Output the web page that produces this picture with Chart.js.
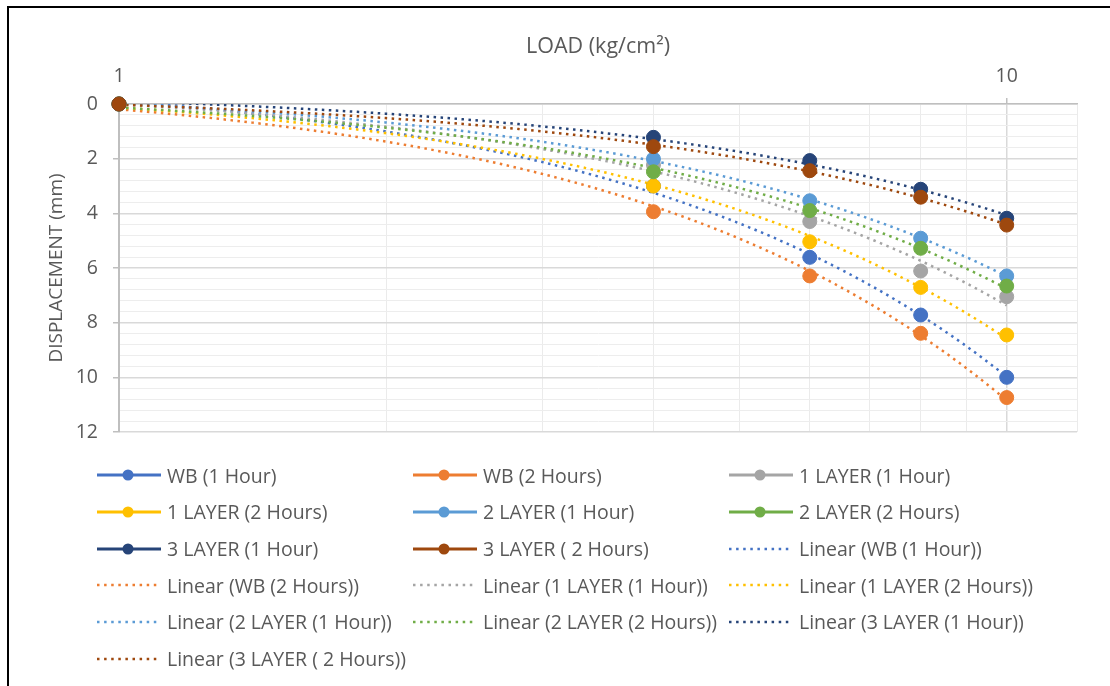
<!DOCTYPE html>
<html>
<head>
<meta charset="utf-8">
<title>Load vs displacement</title>
<script src="https://cdn.jsdelivr.net/npm/chart.js@4.4.0/dist/chart.umd.min.js"></script>
<style>
  html, body { margin: 0; padding: 0; background: #fff; }
  #wrap { position: relative; width: 1110px; height: 686px; overflow: hidden; font-family: "Open Sans", sans-serif; }
  #frame { position: absolute; left: 7px; top: 6px; width: 1200px; height: 800px; border: 2px solid #000; box-sizing: border-box; }
  #chart { position: absolute; left: 0; top: 0; }
  #legend { position: absolute; left: 97px; top: 457px; display: grid; grid-template-columns: 316px 316px 316px; grid-auto-rows: 36.65px; align-items: center; color: #595959; font-size: 19.5px; }
  .item { display: flex; align-items: center; white-space: nowrap; }
  .item svg { margin-right: 6px; flex: none; }
</style>
</head>
<body>
<div id="wrap">
  <div id="frame"></div>
  <canvas id="chart" width="1110" height="686"></canvas>
  <div id="legend"></div>
</div>
<script>
// load (kg/cm2) on the log x axis
const loads = [1, 4, 6, 8, 10];

// displacement (mm) per series
const wb1h      = [0, 3.00, 5.61, 7.72, 10.00];
const wb2h      = [0, 3.94, 6.29, 8.39, 10.74];
const layer1_1h = [0, 2.23, 4.30, 6.11, 7.05];
const layer1_2h = [0, 3.00, 5.04, 6.71, 8.45];
const layer2_1h = [0, 2.01, 3.54, 4.91, 6.29];
const layer2_2h = [0, 2.48, 3.90, 5.28, 6.66];
const layer3_1h = [0, 1.22, 2.07, 3.12, 4.18];
const layer3_2h = [0, 1.56, 2.44, 3.41, 4.43];

const seriesNames = ['WB (1 Hour)', 'WB (2 Hours)', '1 LAYER (1 Hour)', '1 LAYER (2 Hours)',
  '2 LAYER (1 Hour)', '2 LAYER (2 Hours)', '3 LAYER (1 Hour)', '3 LAYER ( 2 Hours)'];
const seriesValues = [wb1h, wb2h, layer1_1h, layer1_2h, layer2_1h, layer2_2h, layer3_1h, layer3_2h];
const seriesColors = ['#4472C4', '#ED7D31', '#A5A5A5', '#FFC000', '#5B9BD5', '#70AD47', '#264478', '#9E480E'];

// axis ticks
const xTicks = [1, 2, 3, 4, 5, 6, 7, 8, 9, 10, 12];
const xLabels = [1, 10];
const yMin = 0, yMax = 12, yMajor = 2, yMinor = 0.4;

const TEXT = '#595959';
Chart.defaults.font.family = '"Open Sans", sans-serif';
Chart.defaults.color = TEXT;

// least squares line, like an Excel "Linear" trendline
function linearFit(xs, ys) {
  const n = xs.length;
  const mx = xs.reduce((a, b) => a + b, 0) / n;
  const my = ys.reduce((a, b) => a + b, 0) / n;
  let sxy = 0, sxx = 0;
  xs.forEach((x, i) => { sxy += (x - mx) * (ys[i] - my); sxx += (x - mx) * (x - mx); });
  const a = sxy / sxx;
  return { a, b: my - a * mx };
}

function trendPoints(ys) {
  const { a, b } = linearFit(loads, ys);
  const x0 = loads[0], x1 = loads[loads.length - 1];
  const pts = [];
  for (let i = 0; i <= 80; i++) {
    const x = x0 * Math.pow(x1 / x0, i / 80); // even steps on the log axis
    pts.push({ x, y: a * x + b });
  }
  return pts;
}

const isMajorY = v => Math.abs(v / yMajor - Math.round(v / yMajor)) < 1e-6;

const markerSets = seriesNames.map((name, i) => ({
  label: name,
  data: loads.map((x, j) => ({ x, y: seriesValues[i][j] })),
  backgroundColor: seriesColors[i],
  borderColor: seriesColors[i],
  pointRadius: 7,
  pointHoverRadius: 7,
  pointBorderWidth: 1,
  showLine: false,
  clip: 12,
  order: 10 - i
}));

const trendSets = seriesNames.map((name, i) => ({
  label: 'Linear (' + name + ')',
  data: trendPoints(seriesValues[i]),
  borderColor: seriesColors[i],
  backgroundColor: seriesColors[i],
  borderWidth: 2.5,
  borderDash: [2.5, 4.5],
  pointRadius: 0,
  pointHoverRadius: 0,
  showLine: true,
  tension: 0,
  order: 40 - i,
  isTrend: true
}));

const chart = new Chart(document.getElementById('chart'), {
  type: 'scatter',
  data: { datasets: [...markerSets, ...trendSets] },
  options: {
    responsive: false,
    animation: false,
    layout: { padding: { left: 0, top: 0, right: 33, bottom: 254 } },
    plugins: { legend: { display: false }, tooltip: { enabled: false } },
    scales: {
      x: {
        type: 'logarithmic',
        position: 'top',
        min: 1,
        max: 12,
        afterBuildTicks: s => { s.ticks = xTicks.map(v => ({ value: v })); },
        afterFit: s => { s.height = 104; },
        ticks: {
          autoSkip: false,
          maxRotation: 0,
          padding: 10,
          color: TEXT,
          font: { size: 19.5 },
          callback: v => xLabels.includes(v) ? String(v) : ''
        },
        grid: {
          color: c => (c.tick && (c.tick.value === 10 || c.tick.value === 1)) ? '#d9d9d9' : '#ebebeb',
          lineWidth: c => (c.tick && c.tick.value === 10) ? 1.5 : 1,
          tickLength: 6,
          tickColor: c => (c.tick && xLabels.includes(c.tick.value)) ? '#bfbfbf' : 'rgba(0,0,0,0)'
        },
        border: { color: '#bfbfbf', width: 1.5 },
        title: {
          display: true,
          text: 'LOAD (kg/cm²)',
          color: TEXT,
          font: { size: 21.5 },
          padding: { top: 34, bottom: 0 }
        }
      },
      y: {
        type: 'linear',
        reverse: true,
        min: yMin,
        max: yMax,
        afterFit: s => { s.width = 119; },
        ticks: {
          stepSize: yMinor,
          autoSkip: false,
          padding: 15,
          color: TEXT,
          font: { size: 19.5 },
          callback: v => isMajorY(v) ? String(Math.round(v)) : ''
        },
        grid: {
          color: c => (c.tick && isMajorY(c.tick.value)) ? '#d9d9d9' : '#ededed',
          lineWidth: c => (c.tick && isMajorY(c.tick.value)) ? 1.5 : 1,
          tickLength: 6,
          tickColor: c => (c.tick && isMajorY(c.tick.value)) ? '#bfbfbf' : 'rgba(0,0,0,0)'
        },
        border: { color: '#bfbfbf', width: 2 },
        title: {
          display: true,
          text: 'DISPLACEMENT (mm)',
          color: TEXT,
          font: { size: 19 },
          padding: { top: 45, bottom: 0 }
        }
      }
    }
  }
});

// legend laid out in three columns like the original
const legend = document.getElementById('legend');
chart.data.datasets.forEach(ds => {
  const c = ds.borderColor;
  const icon = ds.isTrend
    ? `<svg width="64" height="14"><line x1="0" y1="7" x2="60" y2="7" stroke="${c}" stroke-width="2.5" stroke-dasharray="2.5 4.6"/></svg>`
    : `<svg width="64" height="14"><line x1="0" y1="7" x2="64" y2="7" stroke="${c}" stroke-width="3"/><circle cx="31" cy="7" r="5.5" fill="${c}"/></svg>`;
  const item = document.createElement('div');
  item.className = 'item';
  item.innerHTML = icon;
  const span = document.createElement('span');
  span.textContent = ds.label;
  item.appendChild(span);
  legend.appendChild(item);
});
</script>
</body>
</html>
